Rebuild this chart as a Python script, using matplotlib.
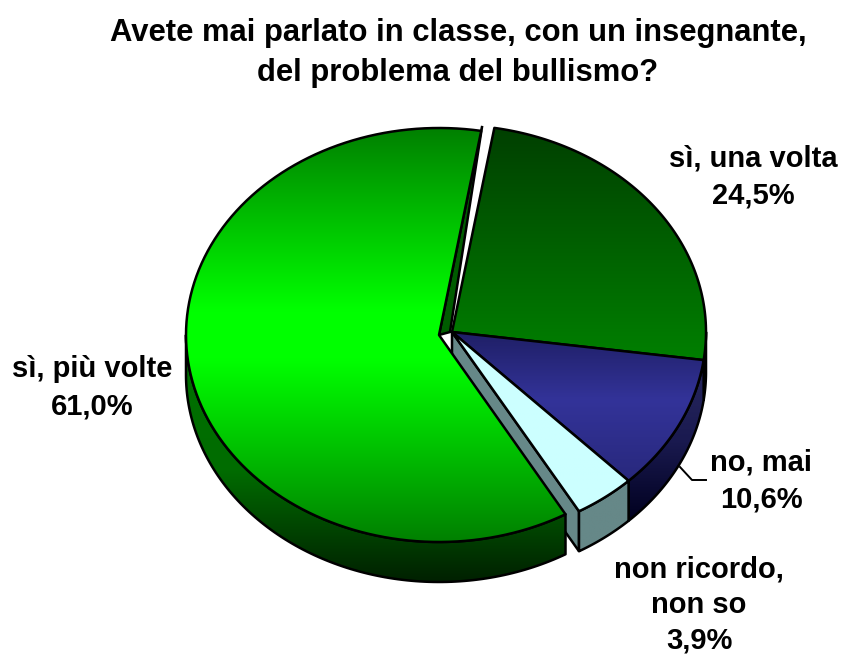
import numpy as np
import matplotlib
matplotlib.use("Agg")
import matplotlib.pyplot as plt
from matplotlib.colors import LinearSegmentedColormap
from matplotlib.patches import Polygon

plt.rcParams['font.family'] = ['Liberation Sans', 'DejaVu Sans']

title = "Avete mai parlato in classe, con un insegnante,\ndel problema del bullismo?"
labels = ["sì, una volta", "no, mai", "non ricordo,\nnon so", "sì, più volte"]
values = [24.5, 10.6, 3.9, 61.0]

# pie shape, in pixels of the 841x657 picture
start = 80.4
radii_x = [254, 254, 254, 253]
ry = 207
depth = 40
apex_right = (452, 332)
apex_green = (439, 335)
apexes = [apex_right, apex_right, apex_right, apex_green]
label_pos = [(753, 177), (761, 481), (699, 605), (92, 388)]
label_spacing = [1.42, 1.42, 1.34, 1.42]

# top gradients: (y in pixels, colour)
tops = [
    [(125, "#003f00"), (362, "#008000")],
    [(332, "#1f1f66"), (400, "#333399"), (482, "#28287c")],
    [(332, "#ccffff"), (512, "#ccffff")],
    [(128, "#008000"), (310, "#00ff00"), (360, "#00ff00"), (542, "#008000")],
]
walls = [
    [(330, "#004000"), (400, "#004000")],
    [(360, "#28285f"), (440, "#1a1a50"), (522, "#00001e")],
    [(480, "#668888"), (555, "#668888")],
    [(340, "#007000"), (470, "#006c00"), (582, "#002000")],
]
grey = "#668888"
strip_green = "#005c00"
line_w = 1.8


def grad_fill(ax, pts, stops, zorder):
    ys = [s[0] for s in stops]
    y0, y1 = ys[0], ys[-1]
    cm = LinearSegmentedColormap.from_list(
        "g", [((y - y0) / (y1 - y0), c) for y, c in stops])
    xs = pts[:, 0]
    im = ax.imshow(np.linspace(0, 1, 256).reshape(-1, 1), cmap=cm, aspect="auto",
                   extent=(xs.min() - 2, xs.max() + 2, y1, y0), zorder=zorder,
                   interpolation="bilinear")
    poly = Polygon(pts, closed=True, transform=ax.transData, fc="none", ec="none")
    ax.add_patch(poly)
    im.set_clip_path(poly)
    ax.add_patch(Polygon(pts, closed=True, fc="none", ec="black", lw=line_w,
                         zorder=zorder + 0.1, joinstyle="round"))


def rim(apex, rx, t0, t1):
    t = np.radians(np.linspace(t0, t1, 120))
    return np.column_stack([apex[0] + rx * np.cos(t), apex[1] - ry * np.sin(t)])


fig = plt.figure(figsize=(8.41, 6.57), dpi=100)
ax = fig.add_axes([0, 0, 1, 1])
ax.axis("off")

angles = start - np.cumsum([0] + values) * 3.6

z = 1
for i in range(4):
    t0, t1 = angles[i], angles[i + 1]
    apex = apexes[i]
    rx = radii_x[i]
    # cut face of the small slice, seen behind the big one
    if i == 2:
        p = rim(apex, rx, t1, t1)[0]
        face = np.array([apex, p, p + [0, depth], [apex[0], apex[1] + depth]])
        ax.add_patch(Polygon(face, closed=True, fc=grey, ec="black", lw=line_w, zorder=z))
        z += 1
    # thin cut face of the big slice next to the gap
    if i == 3:
        p = rim(apex, rx, start, start)[0]
        strip = np.array([apex, p + [1, -5], [apex[0] + 11, apex[1] - 3]])
        ax.add_patch(Polygon(strip, closed=True, fc=strip_green, ec="black", lw=line_w,
                             zorder=z))
        z += 1
    # outer wall only on the lower half of the ellipse
    lo, hi = max(t1, -180), min(t0, 0)
    if lo < hi:
        arc = rim(apex, rx, hi, lo)
        wall = np.vstack([arc, arc[::-1] + [0, depth]])
        grad_fill(ax, wall, walls[i], z)
        z += 1
    top = np.vstack([[apex], rim(apex, rx, t0, t1)])
    grad_fill(ax, top, tops[i], z)
    z += 1

# leader line for the "no, mai" label
ax.plot([680, 692, 706], [467, 480, 480], color="black", lw=1.4, zorder=z)

ax.text(458, 53, title, ha="center", va="center", fontsize=22.3, fontweight="bold",
        linespacing=1.42, color="black", zorder=z)
for lab, v, (x, y), sp in zip(labels, values, label_pos, label_spacing):
    txt = lab + "\n" + f"{v:.1f}".replace(".", ",") + "%"
    ax.text(x, y, txt, ha="center", va="center", fontsize=21, fontweight="bold",
            linespacing=sp, color="black", zorder=z)

ax.set_xlim(0, 841)
ax.set_ylim(657, 0)
fig.savefig("out.png", dpi=100, facecolor="white")
